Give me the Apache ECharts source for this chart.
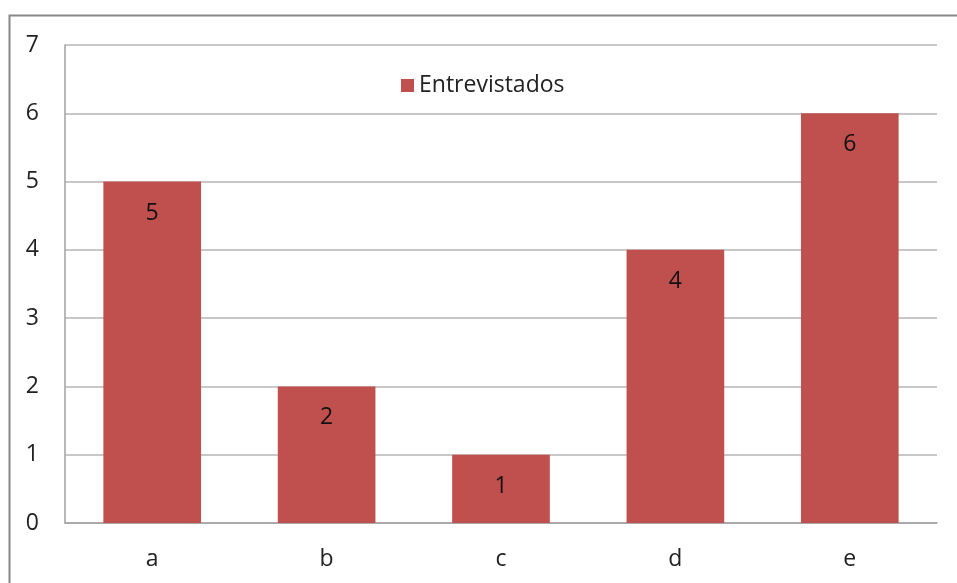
<!DOCTYPE html>
<html><head><meta charset="utf-8">
<script src="https://cdn.jsdelivr.net/npm/echarts@6/dist/echarts.min.js"></script>
<style>html,body{margin:0;padding:0;background:#fff}#c{width:957px;height:583px}</style>
</head><body><div id="c"></div>
<script>
const categories = ['a','b','c','d','e'];
const entrevistados = [5,2,1,4,6];
const seriesName = 'Entrevistados';
const chart = echarts.init(document.getElementById('c'));
chart.setOption({
  animation:false,
  backgroundColor:'#fff',
  textStyle:{fontFamily:'"Open Sans", "DejaVu Sans", sans-serif'},
  graphic:[{type:'rect',shape:{x:9.5,y:15.5,width:960,height:600},style:{fill:'none',stroke:'#888',lineWidth:2}}],
  legend:{left:396,top:69,itemWidth:13,itemHeight:13,itemGap:7,icon:'rect',
    textStyle:{fontSize:23,color:'#222',fontFamily:'"Open Sans", sans-serif'},data:[seriesName]},
  grid:{left:65,right:20,top:45,bottom:60},
  xAxis:{type:'category',data:categories,
    axisLine:{lineStyle:{color:'#a0a0a0',width:1.5}},axisTick:{show:false},
    axisLabel:{fontSize:23,color:'#222',margin:25}},
  yAxis:{type:'value',min:0,max:7,interval:1,
    axisLine:{show:true,lineStyle:{color:'#a0a0a0',width:1.5}},axisTick:{show:false},
    splitLine:{lineStyle:{color:'#c8c8c8',width:2}},
    axisLabel:{fontSize:23,color:'#222',margin:26}},
  series:[{name:seriesName,type:'bar',data:entrevistados,barWidth:'56%',
    itemStyle:{color:'#c0504d'},
    label:{show:true,position:'insideTop',distance:20,fontSize:23,color:'#111'}}]
});
</script></body></html>
